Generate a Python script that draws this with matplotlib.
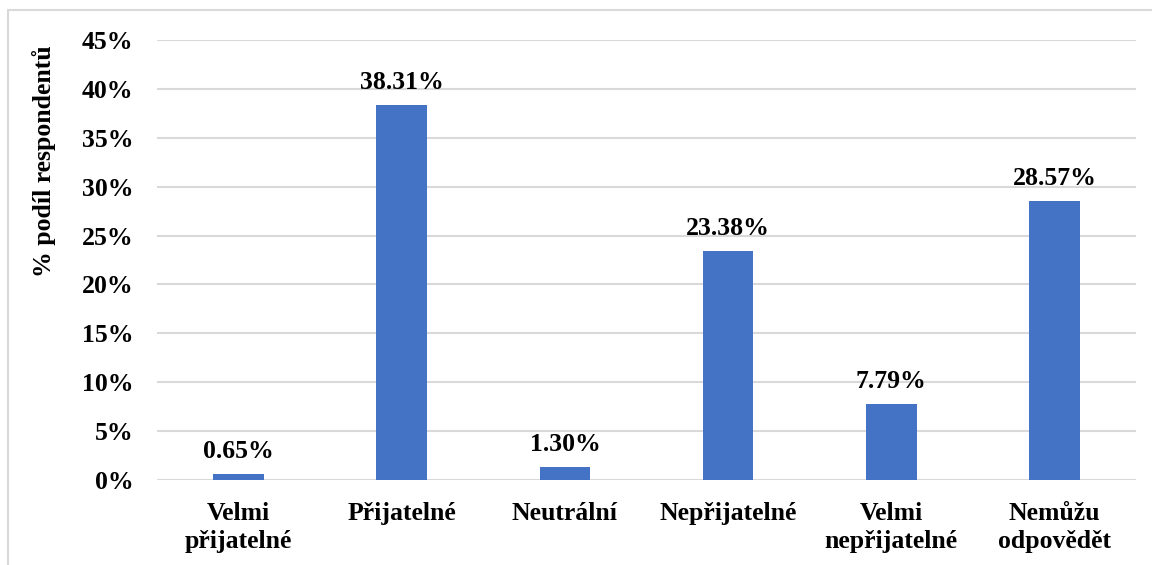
import matplotlib
matplotlib.use("Agg")
from matplotlib import pyplot as plt
from matplotlib.patches import Rectangle
from matplotlib.ticker import PercentFormatter

categories = ["Velmi\npřijatelné", "Přijatelné", "Neutrální", "Nepřijatelné",
              "Velmi\nnepřijatelné", "Nemůžu\nodpovědět"]
values = [0.65, 38.31, 1.30, 23.38, 7.79, 28.57]
labels = ["0.65%", "38.31%", "1.30%", "23.38%", "7.79%", "28.57%"]
yticks = [0, 5, 10, 15, 20, 25, 30, 35, 40, 45]

plt.rcParams['font.family'] = ['Liberation Serif', 'DejaVu Serif']
plt.rcParams['font.weight'] = 'bold'

fig = plt.figure(figsize=(11.52, 5.65), dpi=100)
ax = fig.add_axes([157/1152, 1 - 480/565, (1136-157)/1152, (480-40)/565])

# outer chart frame (cut off on right and bottom)
fig.patches.append(Rectangle((8/1152, -0.1), 1.2, 1 - 10/565 + 0.1,
                             transform=fig.transFigure, fill=False,
                             edgecolor='#d9d9d9', linewidth=1.5))

x = range(len(categories))
ax.bar(x, values, width=0.31, color='#4472c4', zorder=3)
for xi, v, s in zip(x, values, labels):
    ax.annotate(s, (xi, v), xytext=(0, 8), textcoords='offset points',
                ha='center', va='bottom', fontsize=18.5, fontweight='bold')

ax.set_xlim(-0.5, len(categories) - 0.5)
ax.set_ylim(0, 45)
ax.set_yticks(yticks)
ax.yaxis.set_major_formatter(PercentFormatter(decimals=0))
ax.set_xticks(list(x))
ax.set_xticklabels(categories, fontsize=18.5, fontweight='bold', linespacing=1.25)
ax.tick_params(axis='y', labelsize=18.5, length=0, pad=17)
ax.tick_params(axis='x', length=0, pad=16)
ax.grid(axis='y', color='#d9d9d9', linewidth=1.5, zorder=0)
for sp in ax.spines.values():
    sp.set_visible(False)
ax.set_ylabel("% podíl respondentů", fontsize=18.5, fontweight='bold')
ax.yaxis.set_label_coords(-0.103, 0.725)

fig.savefig("out.png", dpi=100)
